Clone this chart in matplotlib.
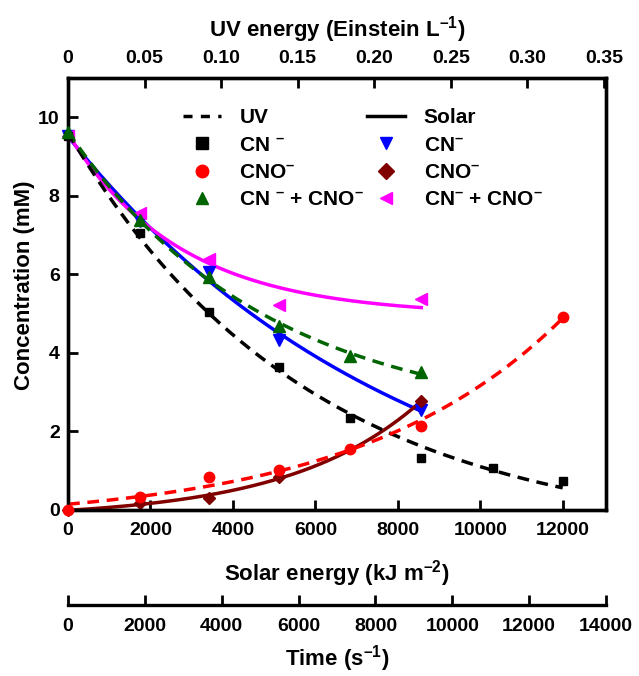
import numpy as np
import matplotlib
matplotlib.use('Agg')
import matplotlib.pyplot as plt
from matplotlib.lines import Line2D

plt.rcParams['font.family'] = ['Liberation Sans', 'DejaVu Sans']
plt.rcParams['font.weight'] = 'bold'
plt.rcParams['mathtext.fontset'] = 'custom'
plt.rcParams['mathtext.rm'] = 'Liberation Sans:bold'
plt.rcParams['mathtext.it'] = 'Liberation Sans:bold'
plt.rcParams['mathtext.bf'] = 'Liberation Sans:bold'
plt.rcParams['mathtext.sf'] = 'Liberation Sans:bold'

# ---------------- data ----------------
# UV experiment (x in Einstein L^-1, top axis)
uv_energy_cn = [0.0, 0.0471, 0.0921, 0.1381, 0.1844, 0.2307, 0.2773, 0.3230]
uv_cn = [9.52, 7.06, 5.05, 3.63, 2.33, 1.33, 1.06, 0.74]
uv_energy_cno = [0.0, 0.0471, 0.0921, 0.1381, 0.1844, 0.2307, 0.3230]
uv_cno = [0.0, 0.32, 0.85, 1.02, 1.56, 2.14, 4.92]
uv_energy_sum = [0.0, 0.0471, 0.0921, 0.1381, 0.1844, 0.2307]
uv_sum = [9.62, 7.38, 5.92, 4.69, 3.93, 3.52]

# Solar experiment (x in kJ m^-2, bottom axis)
solar_energy = [0, 1745, 3420, 5130, 8570]
solar_cn = [9.52, 7.36, 6.05, 4.32, 2.55]
solar_cno = [0.0, 0.17, 0.30, 0.85, 2.77]
solar_sum = [9.52, 7.55, 6.40, 5.23, 5.37]

solar_ticks = [0, 2000, 4000, 6000, 8000, 10000, 12000]
uv_ticks = [0, 0.05, 0.10, 0.15, 0.20, 0.25, 0.30, 0.35]
uv_ticklabels = ['0', '0.05', '0.10', '0.15', '0.20', '0.25', '0.30', '0.35']
time_ticks = [0, 2000, 4000, 6000, 8000, 10000, 12000, 14000]
conc_ticks = [0, 2, 4, 6, 8, 10]

SOLAR_MAX = 13050
UV_MAX = 0.3513
TIME_MAX = 14000

SUP = '$^{\u2013}$'  # short superscript dash


def exp_fit(x, y):
    """least-squares fit of y = a*exp(b*t)+c, t = x/xmax, grid search on b"""
    x = np.asarray(x, float)
    y = np.asarray(y, float)
    xm = x.max()
    t = x / xm
    best = None
    for b in np.linspace(-6, 6, 2401):
        if abs(b) < 1e-6:
            continue
        A = np.column_stack([np.exp(b * t), np.ones_like(t)])
        coef, *_ = np.linalg.lstsq(A, y, rcond=None)
        sse = np.sum((A @ coef - y) ** 2)
        if best is None or sse < best[0]:
            best = (sse, b, coef)
    _, b, (a, c) = best
    xs = np.linspace(0, xm, 200)
    return xs, a * np.exp(b * xs / xm) + c


fig = plt.figure(figsize=(6.39, 6.76), dpi=100)
ax = fig.add_axes([0.1064, 0.2456, 0.8420, 0.6390])
ax_uv = ax.twiny()

ax.set_xlim(0, SOLAR_MAX)
ax.set_ylim(0, 11)
ax_uv.set_xlim(0, UV_MAX)

LW = 2.5
DASH = (0, (3.4, 2.2))

# UV (dashed)
for xv, yv, col, mk, ms in [
    (uv_energy_cn, uv_cn, 'black', 's', 6),
    (uv_energy_cno, uv_cno, '#ff0000', 'o', 7.5),
    (uv_energy_sum, uv_sum, '#006400', '^', 8),
]:
    xs, ys = exp_fit(xv, yv)
    ax_uv.plot(xs, ys, color=col, lw=LW, linestyle=DASH, zorder=2)
    ax_uv.plot(xv, yv, linestyle='none', marker=mk, color=col, ms=ms,
               clip_on=False, zorder=3)

# Solar (solid)
for yv, col, mk, ms in [
    (solar_cn, '#0000ff', 'v', 8),
    (solar_cno, '#800000', 'D', 6.5),
    (solar_sum, '#ff00ff', '<', 8),
]:
    xs, ys = exp_fit(solar_energy, yv)
    ax.plot(xs, ys, color=col, lw=LW, zorder=2)
    ax.plot(solar_energy, yv, linestyle='none', marker=mk, color=col, ms=ms,
            clip_on=False, zorder=3)

# axes styling
for a in (ax, ax_uv):
    for s in a.spines.values():
        s.set_linewidth(2.4)

ax.set_xticks(solar_ticks)
ax.set_yticks(conc_ticks)
ax.tick_params(axis='both', direction='in', length=7, width=2, labelsize=14,
               top=False, right=False)
ax.tick_params(axis='x', pad=9)
ax.tick_params(axis='y', pad=6)

ax_uv.set_xticks(uv_ticks)
ax_uv.set_xticklabels(uv_ticklabels)
ax_uv.tick_params(axis='x', direction='in', length=7, width=2, labelsize=14, pad=8)

ax.set_ylabel('Concentration (mM)', fontsize=16, fontweight='bold')
ax.yaxis.set_label_coords(-0.062, 0.52)
ax.set_xlabel('Solar energy (kJ m$^{\u20132}$)', fontsize=16, fontweight='bold')
ax.xaxis.set_label_coords(0.5, -0.112)
ax_uv.set_xlabel('UV energy (Einstein L$^{\u20131}$)', fontsize=16, fontweight='bold')
ax_uv.xaxis.set_label_coords(0.5, 1.097)

# time axis
k = TIME_MAX / SOLAR_MAX
sec = ax.secondary_xaxis(-0.22, functions=(lambda x: x * k, lambda x: x / k))
sec.set_xticks(time_ticks)
sec.spines['bottom'].set_linewidth(2.4)
sec.tick_params(axis='x', direction='in', length=7, width=2, labelsize=14, pad=9)
ax.text(0.5, -0.308, 'Time (s$^{\u20131}$)', transform=ax.transAxes, ha='center',
        va='top', fontsize=16, fontweight='bold')

# legend
handles = [
    Line2D([], [], color='black', lw=LW, linestyle=(0, (2.6, 2.4))),
    Line2D([], [], color='black', marker='s', ls='none', ms=8),
    Line2D([], [], color='#ff0000', marker='o', ls='none', ms=9),
    Line2D([], [], color='#006400', marker='^', ls='none', ms=9),
    Line2D([], [], color='black', lw=LW),
    Line2D([], [], color='#0000ff', marker='v', ls='none', ms=9),
    Line2D([], [], color='#800000', marker='D', ls='none', ms=8),
    Line2D([], [], color='#ff00ff', marker='<', ls='none', ms=9),
]
labels = ['UV', 'CN ' + SUP, 'CNO' + SUP, 'CN ' + SUP + ' + CNO' + SUP,
          'Solar', 'CN' + SUP, 'CNO' + SUP, 'CN' + SUP + ' + CNO' + SUP]
ax_uv.legend(handles, labels, ncol=2, loc='upper left',
             bbox_to_anchor=(0.214, 0.93), frameon=False, fontsize=15,
             handlelength=1.8, handletextpad=0.9, columnspacing=0.15,
             labelspacing=0.4, borderpad=0, borderaxespad=0)

fig.savefig('out.png', dpi=100)
